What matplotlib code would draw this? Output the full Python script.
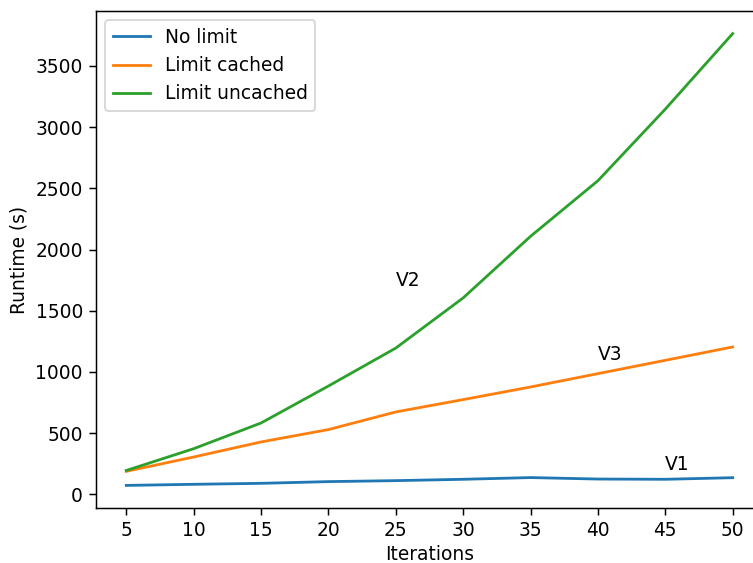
import matplotlib
matplotlib.use("Agg")
import matplotlib.pyplot as plt

iterations = [5, 10, 15, 20, 25, 30, 35, 40, 45, 50]
no_limit = [73, 82, 90, 104, 112, 123, 137, 125, 123, 136]
limit_cached = [188, 305, 428, 529, 673, 774, 877, 986, 1095, 1204]
limit_uncached = [195, 373, 583, 885, 1195, 1605, 2108, 2562, 3147, 3764]

labels = ["No limit", "Limit cached", "Limit uncached"]
annotations = [("V1", 45, 200), ("V3", 40, 1100), ("V2", 25, 1700)]

DPI = 134
W, H = 753, 563
fig = plt.figure(figsize=(W / DPI, H / DPI), dpi=DPI)
left, right, top, bottom = 96, 763, 11, 508
ax = fig.add_axes([left / W, 1 - bottom / H, (right - left) / W, (bottom - top) / H])

for series, lab in zip([no_limit, limit_cached, limit_uncached], labels):
    ax.plot(iterations, series, label=lab)

for txt, x, y in annotations:
    ax.text(x, y, txt)

ax.set_xticks(iterations)
ax.set_xlabel("Iterations", labelpad=2.5)
ax.set_ylabel("Runtime (s)")
ax.legend(loc="upper left")

fig.savefig("out.png", dpi=DPI)
